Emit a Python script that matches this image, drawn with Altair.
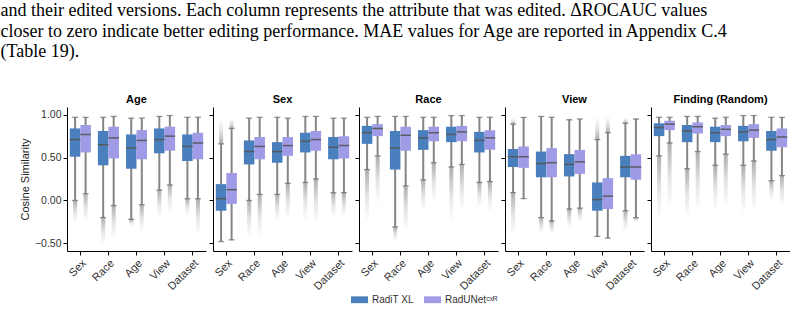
import altair as alt
import pandas as pd

panels = ["Age", "Sex", "Race", "View", "Finding (Random)"]
groups = ["Sex", "Race", "Age", "View", "Dataset"]
models = ["RadiT XL", "RadUNetᶜˣᴿ"]
colors = ["#4a7fbd", "#a09be6"]

# each row: one panel; values ordered group x model (RadiT XL, RadUNet)
lo = [
    [0.00, 0.08, -0.20, -0.06, -0.22, -0.05, 0.12, 0.18, 0.02, 0.02],
    [-0.48, -0.46, 0.00, 0.07, 0.07, 0.20, 0.21, 0.25, 0.09, 0.09],
    [0.36, 0.52, -0.31, 0.17, 0.24, 0.44, 0.39, 0.42, 0.21, 0.22],
    [0.09, 0.02, -0.20, -0.24, -0.10, -0.09, -0.42, -0.44, -0.12, -0.20],
    [0.52, 0.67, 0.37, 0.57, 0.41, 0.54, 0.41, 0.46, 0.23, 0.29],
]
q1 = [
    [0.51, 0.56, 0.41, 0.49, 0.37, 0.48, 0.55, 0.58, 0.46, 0.48],
    [-0.12, -0.04, 0.42, 0.48, 0.44, 0.52, 0.56, 0.58, 0.48, 0.49],
    [0.66, 0.75, 0.36, 0.58, 0.59, 0.69, 0.68, 0.69, 0.56, 0.59],
    [0.39, 0.38, 0.27, 0.27, 0.28, 0.31, -0.12, -0.10, 0.27, 0.24],
    [0.75, 0.82, 0.68, 0.78, 0.68, 0.75, 0.69, 0.73, 0.58, 0.62],
]
med = [
    [0.71, 0.77, 0.65, 0.73, 0.61, 0.70, 0.71, 0.75, 0.63, 0.67],
    [0.02, 0.125, 0.57, 0.63, 0.57, 0.64, 0.69, 0.71, 0.62, 0.64],
    [0.79, 0.84, 0.61, 0.76, 0.73, 0.79, 0.77, 0.80, 0.70, 0.73],
    [0.51, 0.51, 0.43, 0.44, 0.42, 0.45, 0.01, 0.05, 0.39, 0.39],
    [0.85, 0.89, 0.81, 0.86, 0.79, 0.83, 0.80, 0.82, 0.71, 0.74],
]
q3 = [
    [0.84, 0.88, 0.81, 0.86, 0.77, 0.82, 0.84, 0.86, 0.77, 0.79],
    [0.19, 0.32, 0.70, 0.74, 0.68, 0.74, 0.79, 0.81, 0.74, 0.75],
    [0.87, 0.89, 0.81, 0.86, 0.82, 0.86, 0.86, 0.87, 0.80, 0.82],
    [0.60, 0.63, 0.57, 0.61, 0.54, 0.59, 0.21, 0.26, 0.52, 0.54],
    [0.90, 0.93, 0.88, 0.91, 0.86, 0.88, 0.87, 0.89, 0.81, 0.84],
]
hi = [
    [0.97, 0.97, 0.97, 0.98, 0.96, 0.96, 0.98, 0.99, 0.97, 0.97],
    [0.66, 0.84, 0.96, 0.97, 0.97, 0.96, 0.98, 0.98, 0.96, 0.96],
    [0.97, 0.98, 0.98, 0.98, 0.97, 0.97, 0.99, 0.99, 0.97, 0.97],
    [0.89, 0.97, 0.98, 0.97, 0.94, 0.95, 0.71, 0.79, 0.90, 0.95],
    [0.97, 0.97, 0.98, 0.98, 0.96, 0.97, 0.99, 0.99, 0.97, 0.97],
]
# extent of the dense outlier clouds below / above the whiskers
out_lo = [
    [-0.27, -0.25, -0.52, -0.45, -0.30, -0.37, -0.21, -0.13, -0.17, -0.40],
    [-0.48, -0.46, -0.43, -0.43, -0.25, -0.23, -0.23, -0.27, -0.19, -0.19],
    [-0.25, -0.05, -0.48, -0.37, -0.13, -0.02, -0.25, -0.13, -0.09, -0.13],
    [-0.41, 0.02, -0.39, -0.39, -0.33, -0.25, -0.42, -0.44, -0.37, -0.25],
    [-0.23, -0.11, -0.21, -0.13, -0.13, -0.09, -0.15, -0.13, 0.00, -0.07],
]
out_hi = [
    [0.97, 0.97, 0.97, 0.98, 0.96, 0.96, 0.98, 0.99, 0.97, 0.97],
    [0.96, 0.96, 0.96, 0.97, 0.97, 0.96, 0.98, 0.98, 0.96, 0.96],
    [0.97, 0.98, 0.98, 0.98, 0.97, 0.97, 0.99, 0.99, 0.97, 0.97],
    [0.96, 0.97, 0.98, 0.97, 0.96, 0.95, 0.98, 0.98, 0.97, 0.95],
    [0.97, 0.97, 0.98, 0.98, 0.96, 0.97, 0.99, 0.99, 0.97, 0.97],
]

caption = [
    "and their edited versions. Each column represents the attribute that was edited. ΔROCAUC values",
    "closer to zero indicate better editing performance. MAE values for Age are reported in Appendix C.4",
    "(Table 19).",
]

rows = []
for pi, p in enumerate(panels):
    for gi, g in enumerate(groups):
        for mi, m in enumerate(models):
            k = gi * 2 + mi
            rows.append(dict(panel=p, group=g, model=m, lo=lo[pi][k], q1=q1[pi][k],
                             med=med[pi][k], q3=q3[pi][k], hi=hi[pi][k],
                             out_lo=out_lo[pi][k], out_hi=out_hi[pi][k]))
df = pd.DataFrame(rows)

FONT = "Liberation Sans"
ydom = [-0.59, 1.09]
stops = [alt.GradientStop(color="rgba(120,120,120,0.6)", offset=0),
         alt.GradientStop(color="rgba(120,120,120,0.2)", offset=0.5),
         alt.GradientStop(color="rgba(120,120,120,0.0)", offset=1)]
grad_down = alt.Gradient(gradient="linear", x1=0, x2=0, y1=0, y2=1, stops=stops)
grad_up = alt.Gradient(gradient="linear", x1=0, x2=0, y1=1, y2=0, stops=stops)


def panel_chart(i, p):
    base = alt.Chart(df).transform_filter(alt.datum.panel == p)
    yaxis = alt.Axis(values=[-0.5, -0.25, 0, 0.25, 0.5, 0.75, 1.0], format=".2f",
                     grid=False, labels=(i == 0), title="Cosine Similarity" if i == 0 else None)
    x = alt.X("group:N", sort=groups, title=None,
              scale=alt.Scale(paddingInner=0.25, paddingOuter=0.1),
              axis=alt.Axis(labelAngle=-45, grid=False, labelFontSize=11))
    xo = alt.XOffset("model:N", sort=models, scale=alt.Scale(paddingInner=0, paddingOuter=0))
    yscale = alt.Scale(domain=ydom, nice=False, zero=False)

    whisk = base.mark_rule(color="#858585", strokeWidth=2).encode(
        x=x, xOffset=xo, y=alt.Y("lo:Q", scale=yscale, axis=yaxis), y2="hi:Q")
    outl = base.transform_filter(alt.datum.out_lo < alt.datum.lo).mark_bar(size=4, color=grad_down).encode(
        x=x, xOffset=xo, y="lo:Q", y2="out_lo:Q")
    outh = base.transform_filter(alt.datum.out_hi > alt.datum.hi).mark_bar(size=4, color=grad_up).encode(
        x=x, xOffset=xo, y="out_hi:Q", y2="hi:Q")
    box = base.mark_bar().encode(
        x=x, xOffset=xo, y="q1:Q", y2="q3:Q",
        color=alt.Color("model:N", sort=models,
                        scale=alt.Scale(domain=models, range=colors),
                        legend=alt.Legend(title=None, orient="none", direction="horizontal",
                                          legendX=284, legendY=184,
                                          symbolType="M-1,-0.4L1,-0.4L1,0.4L-1,0.4Z",
                                          symbolSize=289, symbolStrokeWidth=0,
                                          labelFont=FONT, labelFontSize=10, labelColor="#333",
                                          columnPadding=10)))
    medl = base.mark_tick(size=10.5, thickness=1.5, color="#555555", opacity=0.9).encode(
        x=x, xOffset=xo, y="med:Q")
    cap_lo = base.mark_tick(size=6, thickness=1.3, color="#666666").encode(x=x, xOffset=xo, y="lo:Q")
    cap_hi = base.mark_tick(size=6, thickness=1.3, color="#666666").encode(x=x, xOffset=xo, y="hi:Q")
    return alt.layer(whisk, outl, outh, box, medl, cap_lo, cap_hi).properties(
        width=139, height=144,
        title=alt.TitleParams(p, font=FONT, fontSize=11, fontWeight="bold", color="#000", offset=2))


chart = alt.hconcat(*[panel_chart(i, p) for i, p in enumerate(panels)], spacing=2).properties(
    title=alt.TitleParams(caption, anchor="start", frame="bounds", font="Liberation Serif",
                          fontSize=18, lineHeight=20.5, fontWeight="normal", color="#000",
                          dx=-19, offset=33),
    padding={"left": 0, "top": 2, "right": 0, "bottom": 0},
    background="white",
).configure_view(stroke=None).configure_axis(
    domainColor="#000", tickColor="#000", labelColor="#333", labelFont=FONT, labelFontSize=10.5,
    titleFont=FONT, titleFontSize=11, titleFontWeight="normal", titleColor="#222", tickSize=4,
)

chart.save("out.html", embed_options={"renderer": "svg", "actions": False})
